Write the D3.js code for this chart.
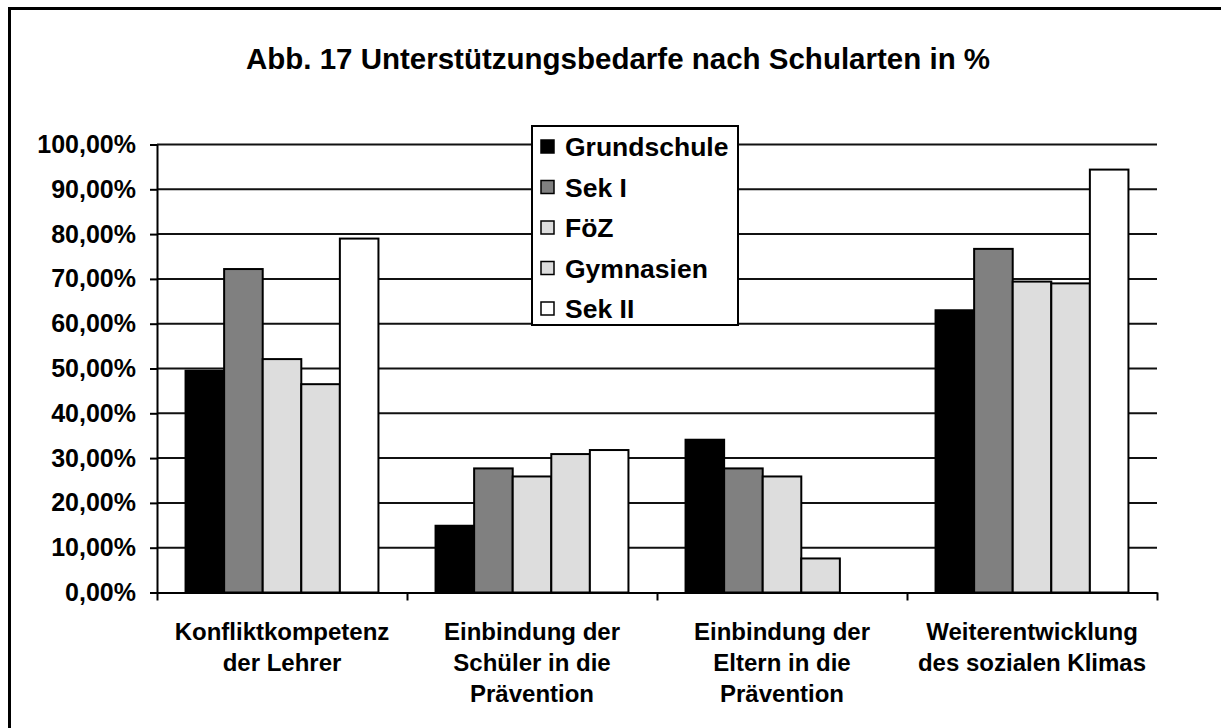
<!DOCTYPE html>
<html>
<head>
<meta charset="utf-8">
<script src="https://cdn.jsdelivr.net/npm/d3@7"></script>
<style>
  body { margin: 0; background: #fff; }
  text { font-family: Arial, "Liberation Sans", sans-serif; font-weight: bold; fill: #000; }
</style>
</head>
<body>
<div class="chart_container"></div>
<script>
var width = 1221
var height = 728

// data
var categories = [
  ["Konfliktkompetenz", "der Lehrer"],
  ["Einbindung der", "Schüler in die", "Prävention"],
  ["Einbindung der", "Eltern in die", "Prävention"],
  ["Weiterentwicklung", "des sozialen Klimas"]
]
var seriesNames = ["Grundschule", "Sek I", "FöZ", "Gymnasien", "Sek II"]
var seriesColors = ["#000000", "#808080", "#dddddd", "#dddddd", "#ffffff"]
var grundschule = [0.495, 0.149, 0.341, 0.630]
var sekI = [0.722, 0.277, 0.277, 0.767]
var foez = [0.521, 0.259, 0.259, 0.694]
var gymnasien = [0.465, 0.309, 0.076, 0.690]
var sekII = [0.790, 0.318, 0, 0.944]
var yTicks = [0, 0.1, 0.2, 0.3, 0.4, 0.5, 0.6, 0.7, 0.8, 0.9, 1.0]

var seriesValues = [grundschule, sekI, foez, gymnasien, sekII]

var svg = d3.select(".chart_container").append("svg")
                             .attr("width", width)
                             .attr("height", height);

// outer frame (runs off the right and bottom edge like in the picture)
svg.append("rect")
  .attr("x", 9.5)
  .attr("y", 8.5)
  .attr("width", 1260)
  .attr("height", 760)
  .style("fill", "none")
  .style("stroke", "#000")
  .style("stroke-width", 3);

svg.append("text")
  .attr("x", 618)
  .attr("y", 69)
  .style("text-anchor", "middle")
  .style("font-size", "29.5px")
  .text("Abb. 17 Unterstützungsbedarfe nach Schularten in %");

var plotLeft = 157, plotRight = 1157, plotTop = 144.5, plotBottom = 592.5;

var de = d3.formatLocale({decimal: ",", thousands: ".", grouping: [3], currency: ["", " €"]});
var fmt = de.format(".2%");

var scaleY = d3.scaleLinear()
               .domain([0, 1])
               .range([plotBottom, plotTop]);

var scaleCat = d3.scaleBand()
                 .domain(d3.range(categories.length))
                 .range([plotLeft, plotRight])
                 .padding(0);

var scaleSeries = d3.scaleBand()
                    .domain(d3.range(seriesNames.length))
                    .range([0, scaleCat.bandwidth()])
                    .paddingInner(0)
                    .paddingOuter(0.74);

// gridlines
svg.append("g")
  .selectAll("line")
  .data(yTicks.filter(function(t) { return t > 0; }))
  .enter()
  .append("line")
  .attr("x1", plotLeft)
  .attr("x2", plotRight)
  .attr("y1", function(d) { return scaleY(d); })
  .attr("y2", function(d) { return scaleY(d); })
  .style("stroke", "#111")
  .style("stroke-width", 2);

// bars
var groups = svg.selectAll("g.cat")
  .data(categories)
  .enter()
  .append("g")
  .attr("class", "cat")
  .attr("transform", function(d, i) { return "translate(" + scaleCat(i) + ",0)"; });

groups.selectAll("rect")
  .data(function(d, i) {
    return seriesValues.map(function(s, j) { return {series: j, value: s[i]}; })
                       .filter(function(b) { return b.value > 0; });
  })
  .enter()
  .append("rect")
  .attr("x", function(d) { return scaleSeries(d.series); })
  .attr("width", scaleSeries.bandwidth())
  .attr("y", function(d) { return scaleY(d.value); })
  .attr("height", function(d) { return plotBottom - scaleY(d.value); })
  .style("fill", function(d) { return seriesColors[d.series]; })
  .style("stroke", "#000")
  .style("stroke-width", 2);

// y axis
var axisLeft = d3.axisLeft(scaleY)
                 .tickValues(yTicks)
                 .tickFormat(fmt)
                 .tickSizeInner(7)
                 .tickSizeOuter(0)
                 .tickPadding(14);

var yAxis = svg.append("g")
  .attr("transform", "translate(" + plotLeft + ",0)")
  .call(axisLeft);
yAxis.attr("font-family", null).attr("font-size", null);
yAxis.select(".domain").style("stroke", "#000").style("stroke-width", 2);
yAxis.selectAll(".tick line").style("stroke", "#000").style("stroke-width", 2);
yAxis.selectAll(".tick text").style("font-size", "25px").style("fill", "#000");

// x axis with ticks between categories
var scaleEdges = d3.scaleLinear()
                   .domain([0, categories.length])
                   .range([plotLeft, plotRight]);

var axisBottom = d3.axisBottom(scaleEdges)
                   .tickValues(d3.range(categories.length + 1))
                   .tickFormat("")
                   .tickSizeInner(8)
                   .tickSizeOuter(0);

var xAxis = svg.append("g")
  .attr("transform", "translate(0," + plotBottom + ")")
  .call(axisBottom);
xAxis.select(".domain").style("stroke", "#000").style("stroke-width", 2);
xAxis.selectAll(".tick line").style("stroke", "#000").style("stroke-width", 2);

// category labels
var catLabels = svg.selectAll("text.catLabel")
  .data(categories)
  .enter()
  .append("text")
  .attr("class", "catLabel")
  .attr("x", function(d, i) { return scaleCat(i) + scaleCat.bandwidth() / 2; })
  .attr("y", 640)
  .style("text-anchor", "middle")
  .style("font-size", "24px");

catLabels.selectAll("tspan")
  .data(function(d) { return d; })
  .enter()
  .append("tspan")
  .attr("x", function() { return d3.select(this.parentNode).attr("x"); })
  .attr("dy", function(d, i) { return i === 0 ? 0 : 31; })
  .text(function(d) { return d; });

// legend
var legend = svg.append("g")
  .attr("transform", "translate(532,126)");

legend.append("rect")
  .attr("width", 206)
  .attr("height", 199)
  .style("fill", "#fff")
  .style("stroke", "#000")
  .style("stroke-width", 2);

var items = legend.selectAll("g.item")
  .data(seriesNames)
  .enter()
  .append("g")
  .attr("class", "item")
  .attr("transform", function(d, i) { return "translate(0," + (21 + i * 40.5) + ")"; });

items.append("rect")
  .attr("x", 9)
  .attr("y", -7)
  .attr("width", 13)
  .attr("height", 13)
  .style("fill", function(d, i) { return seriesColors[i]; })
  .style("stroke", "#000")
  .style("stroke-width", 1.5);

items.append("text")
  .attr("x", 33)
  .attr("y", 9)
  .style("font-size", "26.5px")
  .text(function(d) { return d; });
</script>
</body>
</html>
